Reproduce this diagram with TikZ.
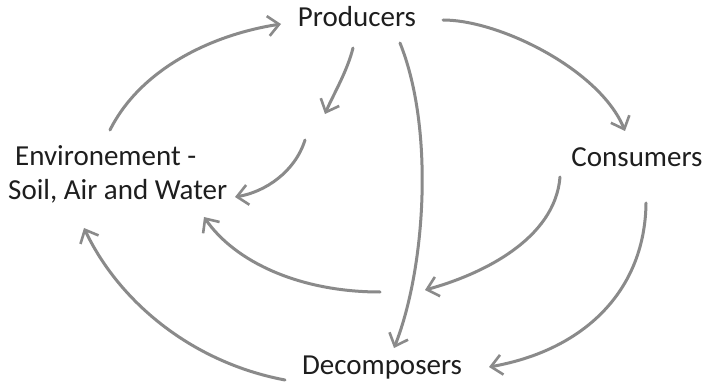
\documentclass[tikz,border=0pt]{standalone}
\usepackage{fontspec}
\setmainfont{Carlito}
\usetikzlibrary{arrows.meta}
\definecolor{pencil}{HTML}{8A8A8A}
\definecolor{ink}{HTML}{1E1E1E}
\begin{document}
\begin{tikzpicture}[x=1pt,y=-1pt,
  lbl/.style={text=ink,font=\fontsize{29}{34}\selectfont,inner sep=0pt},
  flow/.style={draw=pencil,line width=3pt,line cap=round,
    -{Straight Barb[length=11pt,width=20pt,line width=2.6pt]}}]
\useasboundingbox[fill=white] (0,0) rectangle (706,387);
\node[lbl] (prod) at (357,17) {Producers};
\node[lbl] (cons) at (637,157) {Consumers};
\node[lbl] (deco) at (382,368) {Decomposers};
\node[lbl,align=left,anchor=west] (env) at (8,174) {\hspace*{7pt}Environement -\\Soil, Air and Water};
% free ends
\coordinate (a1s) at (110,130);  \coordinate (a1e) at (281,24);
\coordinate (a2s) at (353,48);   \coordinate (a2e) at (325,114);
\coordinate (a3s) at (305,140);  \coordinate (a3e) at (235,197);
\coordinate (a4s) at (443,20);   \coordinate (a4e) at (625,131);
\coordinate (a5s) at (400,43);   \coordinate (a5e) at (394,348);
\coordinate (a6s) at (560,177);  \coordinate (a6e) at (425,290);
\coordinate (a7s) at (646,203);  \coordinate (a7e) at (489,367);
\coordinate (a8s) at (380,292);  \coordinate (a8e) at (204,217);
\coordinate (a9s) at (285,380);  \coordinate (a9e) at (84,228);
\draw[flow] (a1s) .. controls (140,70) and (210,35) .. (a1e);
\draw[flow] (a2s) .. controls (347,72) and (333,95) .. (a2e);
\draw[flow] (a3s) .. controls (295,172) and (265,192) .. (a3e);
\draw[flow] (a4s) .. controls (500,20) and (600,70) .. (a4e);
\draw[flow] (a5s) .. controls (435,130) and (425,270) .. (a5e);
\draw[flow] (a6s) .. controls (555,240) and (480,275) .. (a6e);
\draw[flow] (a7s) .. controls (645,290) and (585,350) .. (a7e);
\draw[flow] (a8s) .. controls (300,292) and (235,262) .. (a8e);
\draw[flow] (a9s) .. controls (190,362) and (118,300) .. (a9e);
\end{tikzpicture}
\end{document}
